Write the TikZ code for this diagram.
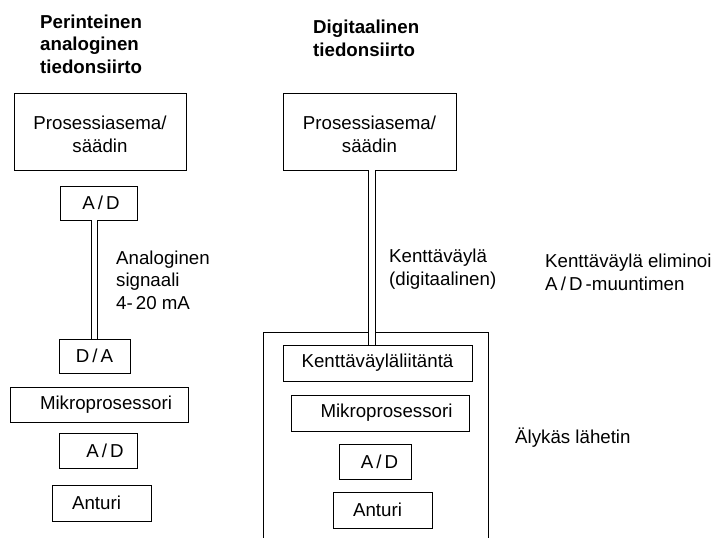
\documentclass[tikz,border=0pt]{standalone}
\usepackage{fontspec}
\setmainfont{Liberation Sans}
\begin{document}
\begin{tikzpicture}[x=1pt,y=-1pt,
  every node/.style={font=\fontsize{18.7}{22.5}\selectfont},
  box/.style={draw, line width=0.9pt, inner sep=0pt, align=center},
  lbl/.style={inner sep=0pt, anchor=west, align=left},
  bus/.style={double distance=5.6pt, line width=0.9pt}]
\useasboundingbox (0,0) rectangle (712,538);
\clip (0,0) rectangle (712,538);
% titles
\node[lbl, font=\fontsize{18.7}{22.5}\selectfont\bfseries] (t1) at (40,44) {Perinteinen\\analoginen\\tiedonsiirto};
\node[lbl, font=\fontsize{18.7}{22.5}\selectfont\bfseries] (t2) at (313,38.5) {Digitaalinen\\tiedonsiirto};
% left column
\node[box, minimum width=172, minimum height=77] (pr1) at (100,131.5) {};
\node[inner sep=0pt, align=center] (pr1t) at ([yshift=-3pt]pr1.center) {Prosessiasema/\\s\"a\"adin};
\node[box, minimum width=77, minimum height=34] (ad1) at (98.5,203) {\hspace*{5pt}A\,/\,D};
\node[box, minimum width=71, minimum height=34] (da) at (94.5,356) {D\,/\,A};
\node[box, minimum width=178, minimum height=35] (mp1) at (99,404.5) {\hspace*{14pt}Mikroprosessori};
\node[box, minimum width=78, minimum height=35] (ad2) at (98,450.5) {\hspace*{14pt}A\,/\,D};
\node[box, minimum width=99, minimum height=36] (an1) at (101.5,503) {Anturi\hspace*{10pt}};
\draw[bus] (da.north) -- (da.north |- ad1.south);
\node[lbl] (sig) at (116,280) {Analoginen\\signaali\\4-\,20 mA};
% right column
\node[box, minimum width=173, minimum height=77] (pr2) at (369.5,131.5) {};
\node[inner sep=0pt, align=center] (pr2t) at ([yshift=-3pt]pr2.center) {Prosessiasema/\\s\"a\"adin};
\node[draw, line width=0.9pt, inner sep=0pt, minimum width=225, minimum height=240, anchor=north west] (tx) at (263,332) {};
\node[box, minimum width=189, minimum height=36] (kv) at (377.5,363) {Kentt\"av\"ayl\"aliit\"ant\"a};
\node[box, minimum width=178, minimum height=36] (mp2) at (380,413) {\hspace*{13pt}Mikroprosessori};
\node[box, minimum width=72, minimum height=35] (ad3) at (375,461.5) {\hspace*{9pt}A\,/\,D};
\node[box, minimum width=99, minimum height=36] (an2) at (382.5,510) {Anturi\hspace*{10pt}};
\coordinate (bx) at (372,0);
\draw[bus] (pr2.south -| bx) -- (kv.north -| bx);
\node[lbl] (fb) at (389,269) {Kentt\"av\"ayl\"a\\(digitaalinen)};
\node[lbl] (el) at (545,272.5) {Kentt\"av\"ayl\"a eliminoi\\A\,/\,D\,-muuntimen};
\node[lbl] (al) at (515,438) {\"Alyk\"as l\"ahetin};
\end{tikzpicture}
\end{document}
